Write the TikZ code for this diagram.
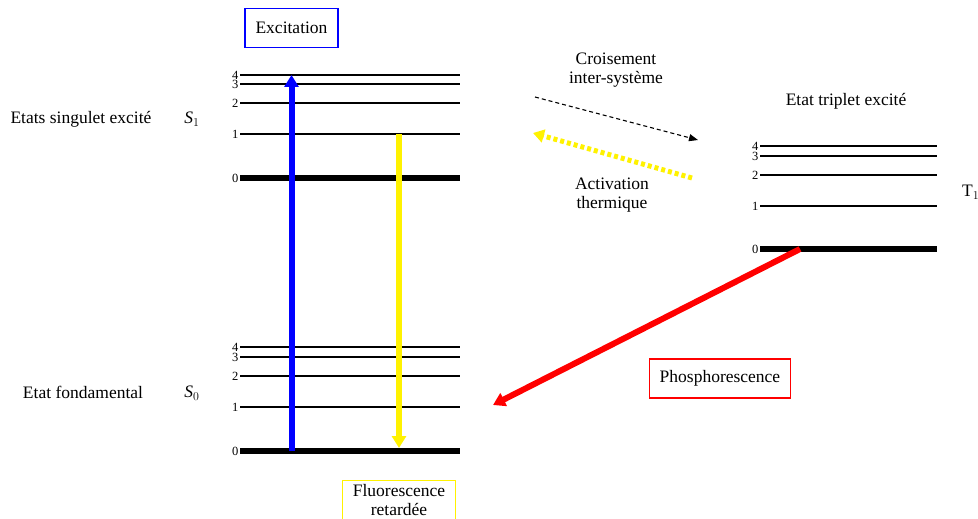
\documentclass[tikz,border=0pt]{standalone}
\usepackage{fontspec}
\setmainfont{Liberation Serif}
\usetikzlibrary{arrows.meta, positioning, calc}

\begin{document}
\begin{tikzpicture}[
    x=1pt, y=-1pt,
    font=\fontsize{17.5}{18.5}\selectfont,
    level/.style={line width=2pt},
    ground/.style={line width=6pt},
    num/.style={font=\fontsize{12.5}{12.5}\selectfont, inner sep=1.5pt, anchor=east},
    label/.style={align=center, inner sep=0pt},
    process/.style={rectangle, draw, line width=1.2pt, minimum height=39pt, align=center, inner xsep=10pt},
    arrow/.style={-{Triangle[length=12pt, width=14pt]}, line width=6pt}
]
\useasboundingbox (0,0) rectangle (978,519);

% Energy levels (S1, S0, T1)
\foreach \n/\y in {4/75, 3/84, 2/103, 1/134} {
    \draw[level] (240,\y) coordinate (s1-\n) -- (460,\y);
    \node[num] at (s1-\n) {\n};
}
\foreach \n/\y in {4/347, 3/357, 2/376, 1/407} {
    \draw[level] (240,\y) coordinate (s0-\n) -- (460,\y);
    \node[num] at (s0-\n) {\n};
}
\foreach \n/\y in {4/146, 3/156, 2/175, 1/206} {
    \draw[level] (760,\y) coordinate (t1-\n) -- (937,\y);
    \node[num] at (t1-\n) {\n};
}
\draw[ground] (240,178) coordinate (s1-0) -- (460,178);
\node[num] at (s1-0) {0};
\draw[ground] (240,451) coordinate (s0-0) -- (460,451);
\node[num] at (s0-0) {0};
\draw[ground] (760,249) coordinate (t1-0) -- (937,249);
\node[num] at (t1-0) {0};

% State labels
\node[label] (singlet) at (81,119) {Etats singulet excité};
\node[label] (s1name) at (192,119) {$\mathit{S}_1$};
\node[label] (fond) at (83,392) {Etat fondamental};
\node[label] (s0name) at (192,393) {$\mathit{S}_0$};
\node[label] (triplet) at (846,101) {Etat triplet excité};
\node[label, anchor=west] (t1name) at (962,192) {T$_1$};

% Processes
\node[process, draw=blue, minimum width=93pt] (exc) at (291.5,28) {Excitation};
\node[process, draw=yellow, minimum width=112pt, anchor=north, inner ysep=4pt] (fluo) at (399,480) {Fluorescence\\retardée};
\node[process, draw=red, minimum width=140pt] (phos) at (720,378.5) {Phosphorescence};
\node[label] (isc) at (616,70) {Croisement\\inter-système};
\node[label] (therm) at (612,195) {Activation\\thermique};

\coordinate (isc-from) at (535,97);
\coordinate (isc-to) at (698,140);
\coordinate (therm-from) at (692,178);
\coordinate (therm-to) at (533,133);
\coordinate (phos-from) at (800,249);
\coordinate (phos-to) at (493,405);

\draw[arrow, blue] (exc |- s0-0) -- (exc |- s1-4);
\draw[arrow, yellow, shorten >=3pt] (fluo |- s1-1) -- (fluo |- s0-0);
\draw[arrow, red] (phos-from) -- (phos-to);
\draw[-{Triangle[length=9pt, width=7pt]}, line width=1.1pt, dash pattern=on 4pt off 3pt] (isc-from) -- (isc-to);
\draw[-{Triangle[length=11pt, width=13pt]}, yellow, line width=5pt, dash pattern=on 4pt off 3pt] (therm-from) -- (therm-to);

\end{tikzpicture}
\end{document}
